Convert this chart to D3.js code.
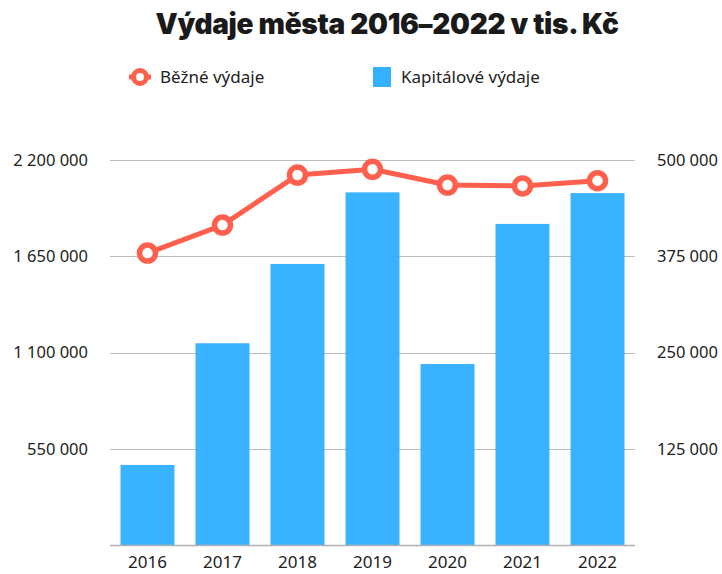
<!DOCTYPE html>
<html>
<head>
<meta charset="utf-8">
<script src="https://cdn.jsdelivr.net/npm/d3@7"></script>
<style>
  body { margin: 0; background: #fff; }
  text { font-family: "Noto Sans", sans-serif; fill: #222; }
</style>
</head>
<body>
<div id="chart"></div>
<script>
// data
var years = ["2016", "2017", "2018", "2019", "2020", "2021", "2022"];
var bezne = [1668000, 1828000, 2114000, 2147000, 2057000, 2052000, 2082000];
var kapitalove = [104000, 262000, 365000, 458000, 235000, 417000, 457000];
var leftTicks = [550000, 1100000, 1650000, 2200000];
var rightTicks = [125000, 250000, 375000, 500000];

var width = 722, height = 574;
var margin = { top: 160, right: 87, bottom: 29, left: 110 };
var w = width - margin.left - margin.right;
var h = height - margin.top - margin.bottom;

var lineColor = "#ff604d";
var barColor = "#33b1ff";

var fmt = function (d) {
    return d3.format(",")(d).replace(/,/g, " ");
};

var svg = d3.select("#chart").append("svg")
    .attr("width", width)
    .attr("height", height);

// title
svg.append("text")
    .attr("x", 387)
    .attr("y", 34)
    .attr("text-anchor", "middle")
    .style("font-family", "Inter")
    .style("font-weight", "900")
    .style("font-size", "28px")
    .style("letter-spacing", "-0.3px")
    .style("fill", "#1a1a1a")
    .text("Výdaje města 2016–2022 v tis. Kč");

// legend
var leg = svg.append("g").attr("transform", "translate(0,77)");
leg.append("line")
    .attr("x1", 129).attr("x2", 151)
    .attr("stroke", lineColor).attr("stroke-width", 5);
leg.append("circle")
    .attr("cx", 140).attr("r", 6.5)
    .attr("fill", "#fff").attr("stroke", lineColor).attr("stroke-width", 5);
leg.append("text")
    .attr("x", 160).attr("dy", "0.35em")
    .style("font-size", "17px")
    .text("Běžné výdaje");
leg.append("rect")
    .attr("x", 373).attr("y", -10).attr("width", 18).attr("height", 20)
    .attr("fill", barColor);
leg.append("text")
    .attr("x", 401).attr("dy", "0.35em")
    .style("font-size", "17px")
    .text("Kapitálové výdaje");

var g = svg.append("g")
    .attr("transform", "translate(" + margin.left + "," + margin.top + ")");

// scales
var x = d3.scaleBand()
    .domain(years)
    .range([0, w])
    .paddingInner(0.28)
    .paddingOuter(0.14);

var yLeft = d3.scaleLinear()
    .domain([0, 2200000])
    .range([h, 0]);

var yRight = d3.scaleLinear()
    .domain([0, 500000])
    .range([h, 0]);

// gridlines
g.selectAll(".grid")
    .data(leftTicks)
    .enter()
    .append("line")
    .attr("class", "grid")
    .attr("x1", 0).attr("x2", w)
    .attr("y1", function (d) { return Math.round(yLeft(d)) + 0.5; })
    .attr("y2", function (d) { return Math.round(yLeft(d)) + 0.5; })
    .attr("stroke", "#bdbdbd")
    .attr("stroke-width", 1);

// bars
g.selectAll(".bar")
    .data(kapitalove)
    .enter()
    .append("rect")
    .attr("class", "bar")
    .attr("x", function (d, i) { return x(years[i]); })
    .attr("y", function (d) { return yRight(d); })
    .attr("width", x.bandwidth())
    .attr("height", function (d) { return h - yRight(d); })
    .attr("fill", barColor)
    .attr("opacity", 0.97);

// baseline
g.append("line")
    .attr("x1", 0).attr("x2", w)
    .attr("y1", h + 0.5).attr("y2", h + 0.5)
    .attr("stroke", "#b0b0b0")
    .attr("stroke-width", 1.5);

// left axis
var leftAxis = d3.axisLeft(yLeft)
    .tickValues(leftTicks)
    .tickSize(0)
    .tickPadding(22)
    .tickFormat(fmt);
g.append("g")
    .attr("class", "y-axis")
    .call(leftAxis)
    .call(function (s) { s.select(".domain").remove(); })
    .selectAll("text")
    .style("font-size", "16.5px")
    .style("font-family", "Noto Sans")
    .attr("fill", "#222");

// right axis
var rightAxis = d3.axisRight(yRight)
    .tickValues(rightTicks)
    .tickSize(0)
    .tickPadding(22)
    .tickFormat(fmt);
g.append("g")
    .attr("class", "y-axis-right")
    .attr("transform", "translate(" + w + ",0)")
    .call(rightAxis)
    .call(function (s) { s.select(".domain").remove(); })
    .selectAll("text")
    .style("font-size", "16.5px")
    .style("font-family", "Noto Sans")
    .attr("fill", "#222");

// x axis
var xAxis = d3.axisBottom(x).tickSize(0).tickPadding(11);
g.append("g")
    .attr("class", "x-axis")
    .attr("transform", "translate(0," + h + ")")
    .call(xAxis)
    .call(function (s) { s.select(".domain").remove(); })
    .selectAll("text")
    .style("font-size", "17px")
    .style("font-family", "Noto Sans")
    .attr("fill", "#222");

// line
var line = d3.line()
    .x(function (d, i) { return x(years[i]) + x.bandwidth() / 2; })
    .y(function (d) { return yLeft(d); });

g.append("path")
    .datum(bezne)
    .attr("d", line)
    .attr("fill", "none")
    .attr("stroke", lineColor)
    .attr("stroke-width", 5)
    .attr("stroke-linejoin", "round");

g.selectAll(".dot")
    .data(bezne)
    .enter()
    .append("circle")
    .attr("class", "dot")
    .attr("cx", function (d, i) { return x(years[i]) + x.bandwidth() / 2; })
    .attr("cy", function (d) { return yLeft(d); })
    .attr("r", 8)
    .attr("fill", "#fff")
    .attr("stroke", lineColor)
    .attr("stroke-width", 5.5);
</script>
</body>
</html>
